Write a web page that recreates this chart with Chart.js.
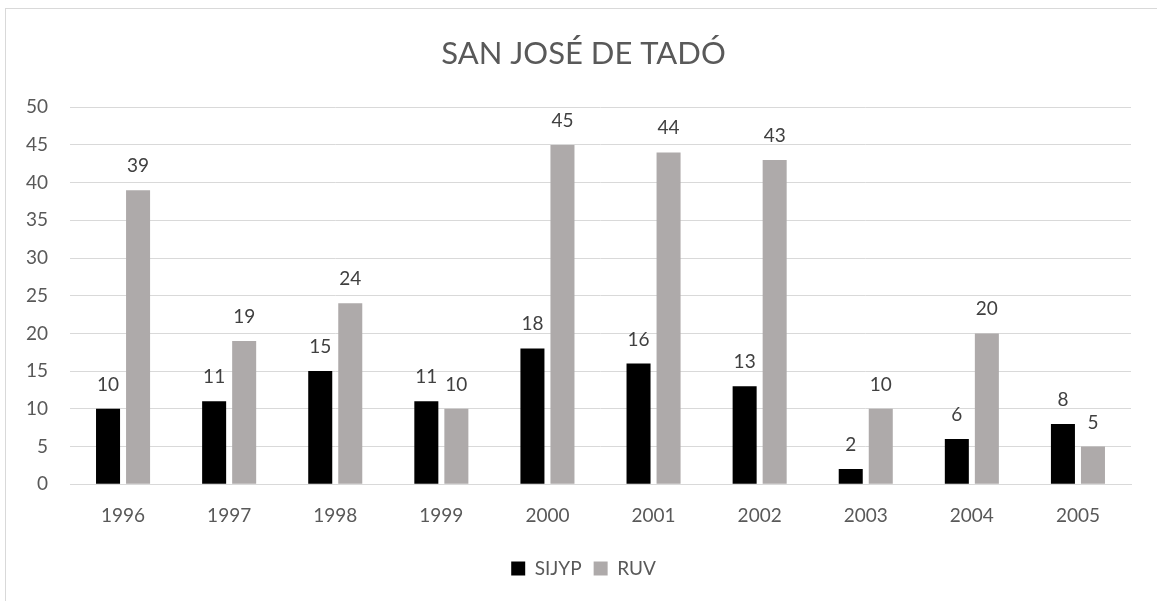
<!DOCTYPE html>
<html>
<head>
<meta charset="utf-8">
<script src="https://cdn.jsdelivr.net/npm/chart.js@4"></script>
<style>
html,body{margin:0;padding:0;background:#fff;overflow:hidden;}
#wrap{position:absolute;left:0;top:0;width:1157px;height:601px;}
</style>
</head>
<body>
<div id="wrap"><canvas id="c" width="1157" height="601"></canvas></div>
<script>
const titleText = 'SAN JOSÉ DE TADÓ';
const categories = ['1996','1997','1998','1999','2000','2001','2002','2003','2004','2005'];
const sijyp = [10, 11, 15, 11, 18, 16, 13, 2, 6, 8];
const ruv = [39, 19, 24, 10, 45, 44, 43, 10, 20, 5];
const seriesNames = ['SIJYP', 'RUV'];

const FONT = 'Lato, "Open Sans", sans-serif';

const frame = {
  id: 'frame',
  beforeDraw(chart) {
    const ctx = chart.ctx;
    ctx.save();
    ctx.fillStyle = '#ffffff';
    ctx.fillRect(0, 0, chart.width, chart.height);
    ctx.strokeStyle = '#d9d9d9';
    ctx.lineWidth = 1;
    ctx.strokeRect(5.5, 8.5, chart.width + 20, chart.height + 20);
    ctx.restore();
  }
};

// centre title and legend on the outer chart frame rather than the padded box
const recenter = {
  id: 'recenter',
  afterLayout(chart) {
    const dx = 18;
    if (chart.titleBlock) { chart.titleBlock.left += dx; chart.titleBlock.right += dx; }
    if (chart.legend) { chart.legend.left += dx; chart.legend.right += dx; }
  }
};

const labels = {
  id: 'valueLabels',
  afterDatasetsDraw(chart) {
    const ctx = chart.ctx;
    ctx.save();
    ctx.font = '19px ' + FONT;
    ctx.fillStyle = '#404040';
    ctx.textAlign = 'center';
    ctx.textBaseline = 'alphabetic';
    chart.data.datasets.forEach((ds, i) => {
      chart.getDatasetMeta(i).data.forEach((bar, j) => {
        ctx.fillText(String(ds.data[j]), bar.x, bar.y - 18);
      });
    });
    ctx.restore();
  }
};

new Chart(document.getElementById('c'), {
  type: 'bar',
  data: {
    labels: categories,
    datasets: [
      { label: seriesNames[0], data: sijyp, backgroundColor: '#000000', categoryPercentage: 0.566, barPercentage: 0.8 },
      { label: seriesNames[1], data: ruv, backgroundColor: '#aeaaaa', categoryPercentage: 0.566, barPercentage: 0.8 }
    ]
  },
  options: {
    responsive: false,
    animation: false,
    events: [],
    layout: { padding: { top: 35, right: 26, bottom: 13, left: 0 } },
    plugins: {
      title: {
        display: true,
        text: titleText,
        color: '#595959',
        font: { family: FONT, size: 31, weight: 'normal' },
        padding: { top: 0, bottom: 35 }
      },
      legend: {
        display: true,
        position: 'bottom',
        labels: {
          color: '#595959',
          font: { family: FONT, size: 19 },
          boxWidth: 14,
          boxHeight: 14,
          padding: 12
        }
      },
      tooltip: { enabled: false }
    },
    scales: {
      x: {
        grid: { display: false, drawTicks: false },
        border: { display: true, color: '#d9d9d9' },
        ticks: { color: '#595959', font: { family: FONT, size: 19 }, padding: 20 }
      },
      y: {
        min: 0, max: 50,
        grid: { color: '#d9d9d9', drawTicks: false },
        border: { display: false },
        ticks: { stepSize: 5, color: '#595959', font: { family: FONT, size: 19 }, padding: 22 },
        afterFit(scale) { scale.width = 70; }
      }
    }
  },
  plugins: [frame, recenter, labels]
});
</script>
</body>
</html>
